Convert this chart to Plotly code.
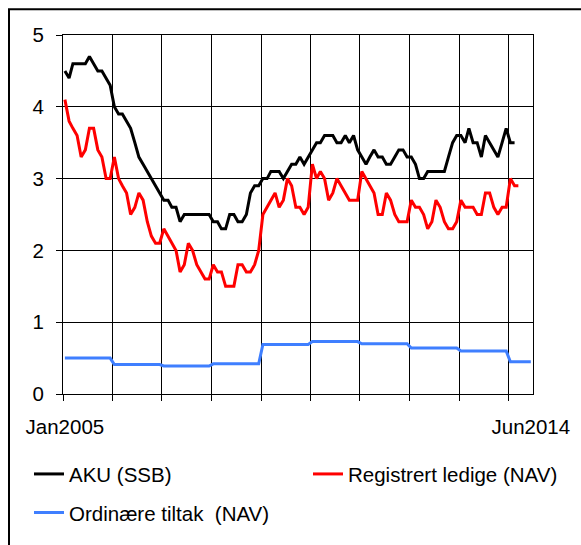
import plotly.graph_objects as go
import pandas as pd

# Monthly categories Jan2005 .. Jun2014
months = pd.date_range("2005-01-01", "2014-06-01", freq="MS")
mid = months + pd.Timedelta(days=14)

# AKU (SSB), Jan2005 .. Feb2014
aku = [4.5, 4.4, 4.6, 4.6, 4.6, 4.6, 4.7, 4.6, 4.5, 4.5, 4.4, 4.3,
       4.0, 3.9, 3.9, 3.8, 3.7, 3.5, 3.3, 3.2, 3.1, 3.0, 2.9, 2.8,
       2.7, 2.7, 2.6, 2.6, 2.4, 2.5, 2.5, 2.5, 2.5, 2.5, 2.5, 2.5,
       2.4, 2.4, 2.3, 2.3, 2.5, 2.5, 2.4, 2.4, 2.5, 2.8, 2.9, 2.9,
       3.0, 3.0, 3.1, 3.1, 3.1, 3.0, 3.1, 3.2, 3.2, 3.3, 3.2, 3.3,
       3.4, 3.5, 3.5, 3.6, 3.6, 3.6, 3.5, 3.5, 3.6, 3.5, 3.6, 3.4,
       3.3, 3.2, 3.3, 3.4, 3.3, 3.3, 3.2, 3.2, 3.3, 3.4, 3.4, 3.3,
       3.3, 3.2, 3.0, 3.0, 3.1, 3.1, 3.1, 3.1, 3.1, 3.3, 3.5, 3.6,
       3.6, 3.5, 3.7, 3.5, 3.5, 3.3, 3.6, 3.5, 3.4, 3.3, 3.5, 3.7,
       3.5, 3.5]

# Registrert ledige (NAV), Jan2005 .. Mar2014
registrert = [4.1, 3.8, 3.7, 3.6, 3.3, 3.4, 3.7, 3.7, 3.4, 3.3, 3.0, 3.0,
              3.3, 3.0, 2.9, 2.8, 2.5, 2.6, 2.8, 2.7, 2.4, 2.2, 2.1, 2.1,
              2.3, 2.2, 2.1, 2.0, 1.7, 1.8, 2.1, 2.0, 1.8, 1.7, 1.6, 1.6,
              1.8, 1.7, 1.7, 1.5, 1.5, 1.5, 1.8, 1.8, 1.7, 1.7, 1.8, 2.0,
              2.5, 2.6, 2.7, 2.8, 2.6, 2.7, 3.0, 2.9, 2.6, 2.6, 2.5, 2.6,
              3.2, 3.0, 3.1, 3.0, 2.7, 2.8, 3.0, 2.9, 2.8, 2.7, 2.7, 2.7,
              3.1, 3.0, 2.9, 2.8, 2.5, 2.5, 2.8, 2.7, 2.5, 2.4, 2.4, 2.4,
              2.7, 2.6, 2.6, 2.5, 2.3, 2.4, 2.7, 2.6, 2.4, 2.3, 2.3, 2.4,
              2.7, 2.6, 2.6, 2.6, 2.5, 2.5, 2.8, 2.8, 2.6, 2.5, 2.6, 2.6,
              3.0, 2.9, 2.9]

# Ordinære tiltak (NAV), yearly level
tiltak_years = [2005, 2006, 2007, 2008, 2009, 2010, 2011, 2012, 2013, 2014]
tiltak = [0.50, 0.41, 0.39, 0.42, 0.69, 0.73, 0.70, 0.64, 0.60, 0.45]

x_labels = ["Jan2005", "Jun2014"]
y_ticks = [0, 1, 2, 3, 4, 5]

tiltak_x, tiltak_y = [], []
for yr, v in zip(tiltak_years, tiltak):
    end_month = 12 if yr < 2014 else 6
    tiltak_x += [f"{yr}-01-15", f"{yr}-{end_month:02d}-15"]
    tiltak_y += [v, v]

FONT = "Liberation Sans, Arial, sans-serif"
FS = 20.5

fig = go.Figure()
fig.add_trace(go.Scatter(x=mid[:len(aku)], y=aku, mode="lines", name="AKU (SSB)",
                         line=dict(color="#000000", width=3), legend="legend"))
fig.add_trace(go.Scatter(x=mid[:len(registrert)], y=registrert, mode="lines",
                         name="Registrert ledige (NAV)",
                         line=dict(color="#FF0000", width=3), legend="legend2"))
fig.add_trace(go.Scatter(x=tiltak_x, y=tiltak_y, mode="lines",
                         name="Ordinære tiltak\u00a0 (NAV)",
                         line=dict(color="#3F7FFF", width=3), legend="legend3"))

W, H = 581, 545
L, R, T, B = 63, 48, 35, 147
pw, ph = W - L - R, H - T - B

def px(x):
    return (x - L) / pw

def py(y):
    return (H - B - y) / ph

def leg(x, y):
    return dict(orientation="h", x=px(x), y=py(y), xanchor="left", yanchor="middle",
                itemwidth=30, bgcolor="rgba(0,0,0,0)", borderwidth=0,
                font=dict(family=FONT, size=FS, color="black"))

fig.update_layout(
    width=W, height=H,
    margin=dict(l=L, r=R, t=T, b=B, pad=0),
    paper_bgcolor="white", plot_bgcolor="white",
    font=dict(family=FONT, size=FS, color="black"),
    xaxis=dict(type="date", range=["2005-01-01", "2014-07-01"],
               tickmode="array", tickvals=[mid[0], mid[-1]], ticktext=x_labels,
               ticks="", showgrid=False, zeroline=False,
               showline=True, linecolor="black", linewidth=1, mirror=True,
               ticklabelstandoff=14,
               tickfont=dict(family=FONT, size=FS, color="black"),
               minor=dict(tick0="2005-01-01", dtick="M12", showgrid=True,
                          gridcolor="black", gridwidth=1, ticks="outside",
                          ticklen=6, tickcolor="black", tickwidth=1)),
    yaxis=dict(range=[0, 5], tickmode="array", tickvals=y_ticks,
               showgrid=True, gridcolor="black", gridwidth=1, zeroline=False,
               ticks="outside", ticklen=6, tickcolor="black", tickwidth=1,
               showline=True, linecolor="black", linewidth=1, mirror=True,
               ticklabelstandoff=8,
               tickfont=dict(family=FONT, size=FS, color="black")),
    legend=leg(29, 479),
    legend2=leg(308, 479),
    legend3=leg(29, 518),
    shapes=[dict(type="rect", xref="paper", yref="paper",
                 x0=px(9), x1=px(600), y0=py(560), y1=py(9),
                 line=dict(color="black", width=2), fillcolor="rgba(0,0,0,0)",
                 layer="above")],
    showlegend=True,
)

fig.write_html("out.html", config={"displayModeBar": False},
               post_script="document.body.style.margin='0';")
